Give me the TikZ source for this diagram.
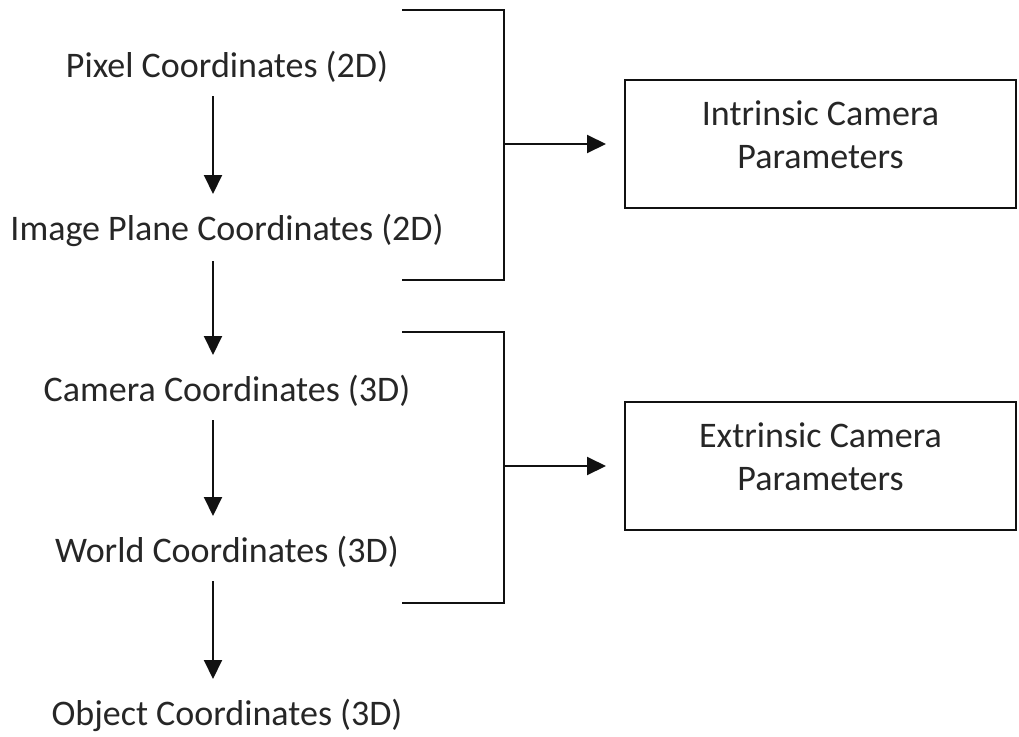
\documentclass[tikz,border=0pt]{standalone}
\usepackage{fontspec}
\setmainfont{Carlito}
\usetikzlibrary{calc,arrows.meta}
\definecolor{txt}{HTML}{262626}
\definecolor{ln}{HTML}{111111}
\begin{document}
\begin{tikzpicture}[x=1pt,y=-1pt,
  lbl/.style={anchor=base, inner sep=0pt, font=\fontsize{36}{43}\selectfont, text=txt},
  boxtxt/.style={inner sep=0pt, align=center, font=\fontsize{36}{43}\selectfont, text=txt, yshift=9pt},
  pbox/.style={draw=ln, line width=2pt, minimum width=391pt, minimum height=128pt, inner sep=0pt},
  arr/.style={draw=ln, line width=2pt, -{Triangle[length=19pt,width=18pt]}},
  brk/.style={draw=ln, line width=2pt, line join=miter}]
\useasboundingbox (0,0) rectangle (1019,736);
% left column
\node[lbl] (pix) at (227,77) {Pixel Coordinates (2D)};
\node[lbl] (img) at (227,240) {Image Plane Coordinates (2D)};
\node[lbl] (cam) at (227,401) {Camera Coordinates (3D)};
\node[lbl] (wld) at (227,562) {World Coordinates (3D)};
\node[lbl] (obj) at (227,725) {Object Coordinates (3D)};
\draw[arr] ($(pix.base)+(-14,19)$) -- ($(img.base)+(-14,-46)$);
\draw[arr] ($(img.base)+(-14,21)$) -- ($(cam.base)+(-14,-46)$);
\draw[arr] ($(cam.base)+(-14,19)$) -- ($(wld.base)+(-14,-46)$);
\draw[arr] ($(wld.base)+(-14,19)$) -- ($(obj.base)+(-14,-46)$);
% boxes
\node[pbox, label={[boxtxt]center:Intrinsic Camera\\Parameters}] (intr) at (820.5,144) {};
\node[pbox, label={[boxtxt]center:Extrinsic Camera\\Parameters}] (extr) at (820.5,466) {};
% brackets
\coordinate (b1t) at (402,10);
\coordinate (b1c) at (504,10);
\coordinate (b1d) at (504,280);
\coordinate (b1b) at (402,280);
\coordinate (b1m) at (504,144);
\draw[brk] (b1t) -- (b1c) -- (b1d) -- (b1b);
\draw[arr] (b1m) -- ($(intr.west)+(-18,0)$);
\coordinate (b2t) at (402,332);
\coordinate (b2c) at (504,332);
\coordinate (b2d) at (504,603);
\coordinate (b2b) at (402,603);
\coordinate (b2m) at (504,466);
\draw[brk] (b2t) -- (b2c) -- (b2d) -- (b2b);
\draw[arr] (b2m) -- ($(extr.west)+(-18,0)$);
\end{tikzpicture}
\end{document}
